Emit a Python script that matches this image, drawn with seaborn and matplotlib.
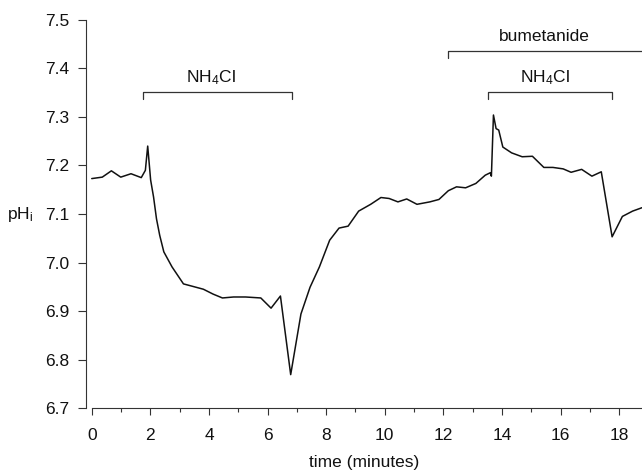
import matplotlib
matplotlib.use("Agg")
import matplotlib.pyplot as plt
import seaborn as sns
import pandas as pd
from matplotlib.ticker import MultipleLocator

time_min = [0.00, 0.36, 0.67, 0.99, 1.34, 1.69, 1.83, 1.91, 2.01, 2.11, 2.21, 2.32, 2.46,
            2.74, 3.13, 3.44, 3.81, 4.14, 4.46, 4.84, 5.25, 5.77, 6.12, 6.44, 6.79,
            7.14, 7.45, 7.77, 8.12, 8.44, 8.75, 9.11, 9.52, 9.87, 10.15, 10.45, 10.75,
            11.10, 11.54, 11.85, 12.17, 12.45, 12.76, 13.11, 13.43, 13.60, 13.64, 13.71,
            13.80, 13.89, 14.03, 14.33, 14.69, 15.04, 15.43, 15.74, 16.09, 16.36, 16.72,
            17.07, 17.39, 17.76, 18.11, 18.46, 18.78]
ph_i = [7.173, 7.176, 7.189, 7.176, 7.183, 7.175, 7.190, 7.240, 7.170, 7.135, 7.090, 7.056, 7.022,
        6.991, 6.956, 6.951, 6.945, 6.935, 6.927, 6.929, 6.929, 6.927, 6.906, 6.931, 6.769,
        6.894, 6.949, 6.991, 7.046, 7.071, 7.075, 7.106, 7.120, 7.134, 7.132, 7.125, 7.131,
        7.120, 7.125, 7.130, 7.148, 7.156, 7.154, 7.163, 7.180, 7.185, 7.178, 7.304,
        7.276, 7.273, 7.238, 7.226, 7.218, 7.219, 7.196, 7.196, 7.193, 7.186, 7.192,
        7.178, 7.187, 7.053, 7.095, 7.106, 7.113]

# annotation bars: (start, end, y, label)
bar_labels = ["NH$_4$Cl", "NH$_4$Cl", "bumetanide"]
bar_start = [1.75, 13.53, 12.17]
bar_end = [6.85, 17.75, 19.5]
bar_y = [7.351, 7.351, 7.435]
label_x = [4.07, 15.45, 15.45]

x_ticks = [0, 2, 4, 6, 8, 10, 12, 14, 16, 18]
y_ticks = [6.7, 6.8, 6.9, 7.0, 7.1, 7.2, 7.3, 7.4, 7.5]

sns.set_style("ticks")
plt.rcParams['font.family'] = ['Liberation Sans', 'DejaVu Sans']
plt.rcParams['mathtext.fontset'] = 'custom'
plt.rcParams['mathtext.rm'] = 'Liberation Sans'
plt.rcParams['mathtext.it'] = 'Liberation Sans'

FS = 12.5
df = pd.DataFrame({"t": time_min, "ph": ph_i})

fig = plt.figure(figsize=(6.42, 4.74), dpi=100)
ax = fig.add_axes([0.134, 0.139, 0.866, 0.819])
sns.lineplot(data=df, x="t", y="ph", ax=ax, color="#111111", linewidth=1.1, sort=False)

ax.set_xlim(-0.195, 18.78)
ax.set_ylim(6.7, 7.5)
ax.set_xticks(x_ticks)
ax.set_yticks(y_ticks)
ax.set_yticklabels([f"{v:.1f}" for v in y_ticks])
ax.xaxis.set_minor_locator(MultipleLocator(1))
ax.tick_params(axis="y", which="major", labelsize=FS, length=6, width=0.8, color="#333333",
               pad=6, labelcolor="#111111")
ax.tick_params(axis="x", which="major", labelsize=FS, length=5, width=0.8, color="#333333",
               pad=9, labelcolor="#111111")
ax.tick_params(axis="x", which="minor", length=3, width=0.8, color="#333333")
ax.spines["top"].set_visible(False)
ax.spines["right"].set_visible(False)
ax.spines["bottom"].set_bounds(0, 18.78)
for s in ("left", "bottom"):
    ax.spines[s].set_linewidth(0.8)
    ax.spines[s].set_color("#333333")

ax.set_xlabel("time (minutes)", fontsize=FS, labelpad=9, color="#111111")
ax.set_ylabel("")
ax.text(-0.118, 0.5, "pH$_\\mathrm{i}$", transform=ax.transAxes, fontsize=FS,
        ha="center", va="center", color="#111111")

for lab, s, e, y, lx in zip(bar_labels, bar_start, bar_end, bar_y, label_x):
    drop = 0.0145
    ax.plot([s, s, e, e], [y - drop, y, y, y - drop], color="#333333", linewidth=0.9,
            clip_on=True)
    ax.text(lx, y + 0.021, lab, fontsize=FS, ha="center", va="baseline", color="#111111")

fig.savefig("out.png", dpi=100)
